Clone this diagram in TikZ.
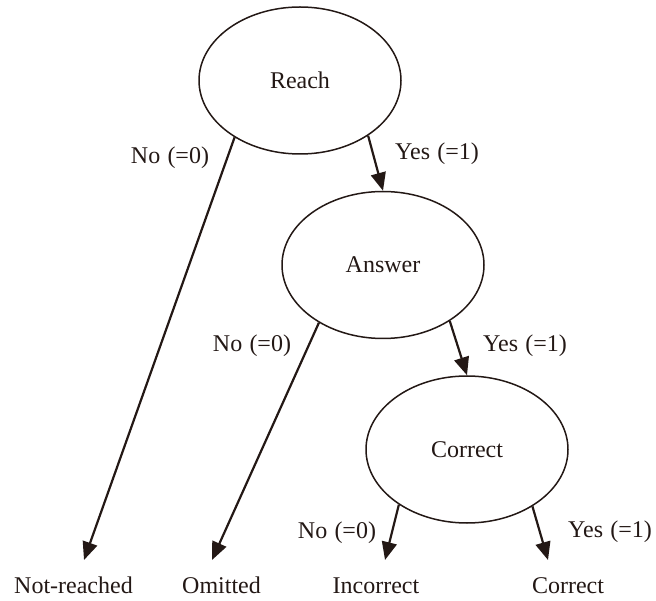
\documentclass[tikz,border=0pt]{standalone}
\usepackage{fontspec}
\setmainfont{Liberation Serif}
\usetikzlibrary{arrows.meta,shapes.geometric}
\definecolor{ink}{RGB}{35,24,21}
\begin{document}
\begin{tikzpicture}[x=1pt,y=-1pt,
  every node/.style={font=\fontsize{24}{28}\selectfont, text=ink},
  state/.style={ellipse, draw=ink, line width=1.5pt, minimum width=202pt, minimum height=147pt, inner sep=0pt},
  branch/.style={draw=ink, line width=2.2pt, -{Triangle[length=18pt,width=15pt]}},
  lab/.style={anchor=base, inner sep=0pt}]
\useasboundingbox (0,0) rectangle (656,601);
% states
\node[state] (reach) at (300,80.5) {Reach};
\node[state] (answer) at (383,265) {Answer};
\node[state] (correct) at (467,449.5) {Correct};
% outcomes
\node[lab] (notreached) at (73.5,593) {Not-reached};
\node[lab] (omitted) at (221.5,593) {Omitted};
\node[lab] (incorrect) at (376,593) {Incorrect};
\node[lab] (correctout) at (568,593) {Correct};
% arrow tips above outcomes
\coordinate (tnr) at (84,560);
\coordinate (tom) at (212,560);
\coordinate (tin) at (385,560);
\coordinate (tco) at (548,560);
% connectors
\draw[branch] (reach.221) -- (tnr);
\draw[branch] (reach.321) -- (answer.north);
\draw[branch] (answer.222) -- (tom);
\draw[branch] (answer.320) -- (correct.north);
\draw[branch] (correct.219) -- (tin);
\draw[branch] (correct.319) -- (tco);
% branch labels
\node[lab] (no1) at (170,164) {No\hspace{0.3em}(=0)};
\node[lab] (yes1) at (437,160) {Yes\hspace{0.3em}(=1)};
\node[lab] (no2) at (252,352) {No\hspace{0.3em}(=0)};
\node[lab] (yes2) at (525,352) {Yes\hspace{0.3em}(=1)};
\node[lab] (no3) at (337,538) {No\hspace{0.3em}(=0)};
\node[lab] (yes3) at (610,537) {Yes\hspace{0.3em}(=1)};
\end{tikzpicture}
\end{document}
